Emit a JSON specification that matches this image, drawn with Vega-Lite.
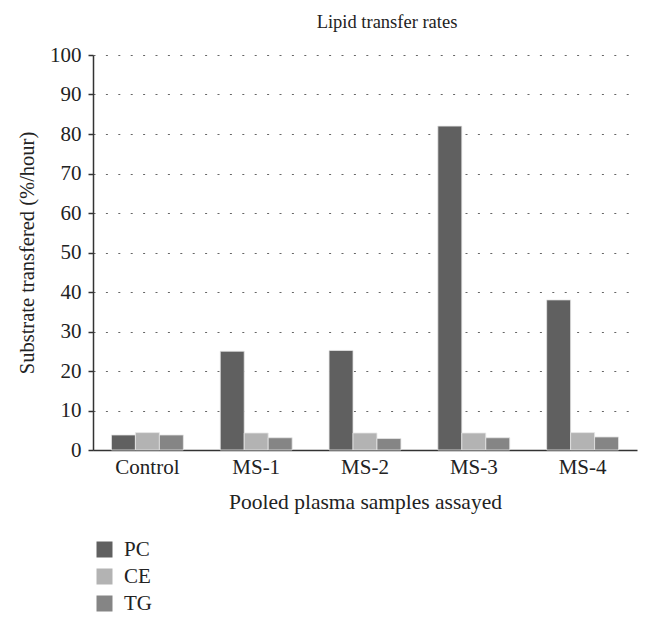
{
  "$schema": "https://vega.github.io/schema/vega-lite/v6.json",
  "autosize": {"type": "none"},
  "width": 544,
  "height": 395,
  "padding": {"left": 93, "top": 55, "right": 15, "bottom": 175},
  "background": "white",
  "title": {"text": "Lipid transfer rates", "font": "Liberation Serif", "fontSize": 18.5, "fontWeight": "normal", "color": "#222", "offset": 13, "dx": 22},
  "config": {"view": {"stroke": null}, "font": "Liberation Serif"},
  "data": {"values": [
    {"sample": "Control", "lipid": "PC", "rate": 3.8},
    {"sample": "Control", "lipid": "CE", "rate": 4.4},
    {"sample": "Control", "lipid": "TG", "rate": 3.8},
    {"sample": "MS-1", "lipid": "PC", "rate": 25.0},
    {"sample": "MS-1", "lipid": "CE", "rate": 4.3},
    {"sample": "MS-1", "lipid": "TG", "rate": 3.1},
    {"sample": "MS-2", "lipid": "PC", "rate": 25.2},
    {"sample": "MS-2", "lipid": "CE", "rate": 4.3},
    {"sample": "MS-2", "lipid": "TG", "rate": 2.9},
    {"sample": "MS-3", "lipid": "PC", "rate": 82.0},
    {"sample": "MS-3", "lipid": "CE", "rate": 4.3},
    {"sample": "MS-3", "lipid": "TG", "rate": 3.1},
    {"sample": "MS-4", "lipid": "PC", "rate": 38.0},
    {"sample": "MS-4", "lipid": "CE", "rate": 4.4},
    {"sample": "MS-4", "lipid": "TG", "rate": 3.3}
  ]},
  "mark": {"type": "bar", "stroke": "#e6e6e6", "strokeWidth": 0.8},
  "encoding": {
    "x": {
      "field": "sample", "type": "nominal", "sort": null,
      "scale": {"paddingInner": 0, "paddingOuter": 0},
      "axis": {"title": "Pooled plasma samples assayed", "labelAngle": 0, "ticks": false, "labelFont": "Liberation Serif", "labelFontSize": 21, "labelColor": "#222", "labelPadding": 6, "titleFont": "Liberation Serif", "titleFontSize": 21.5, "titleFontWeight": "normal", "titleColor": "#222", "titlePadding": 14, "domainColor": "#333", "domainWidth": 1.5}
    },
    "xOffset": {"field": "lipid", "type": "nominal", "sort": ["PC", "CE", "TG"], "scale": {"paddingInner": 0, "paddingOuter": 0.77}},
    "y": {
      "field": "rate", "type": "quantitative",
      "scale": {"domain": [0, 100], "nice": false},
      "axis": {"title": "Substrate transfered (%/hour)", "values": [0, 10, 20, 30, 40, 50, 60, 70, 80, 90, 100], "tickSize": 5, "tickColor": "#333", "tickWidth": 1.5, "domainColor": "#333", "domainWidth": 1.5, "labelFont": "Liberation Serif", "labelFontSize": 21, "labelColor": "#222", "labelPadding": 7, "titleFont": "Liberation Serif", "titleFontSize": 20.5, "titleFontWeight": "normal", "titleColor": "#222", "titlePadding": 12, "grid": true, "gridDash": [2, 10.4], "gridColor": "#666", "gridWidth": 1.2}
    },
    "color": {
      "field": "lipid", "type": "nominal", "sort": ["PC", "CE", "TG"],
      "scale": {"domain": ["PC", "CE", "TG"], "range": ["#606060", "#b3b3b3", "#858585"]},
      "legend": {"title": null, "orient": "none", "legendX": 1, "legendY": 484, "direction": "vertical", "symbolType": "square", "symbolSize": 256, "symbolStrokeWidth": 0, "labelFont": "Liberation Serif", "labelFontSize": 21, "labelColor": "#222", "labelOffset": 9, "rowPadding": 5}
    }
  }
}
